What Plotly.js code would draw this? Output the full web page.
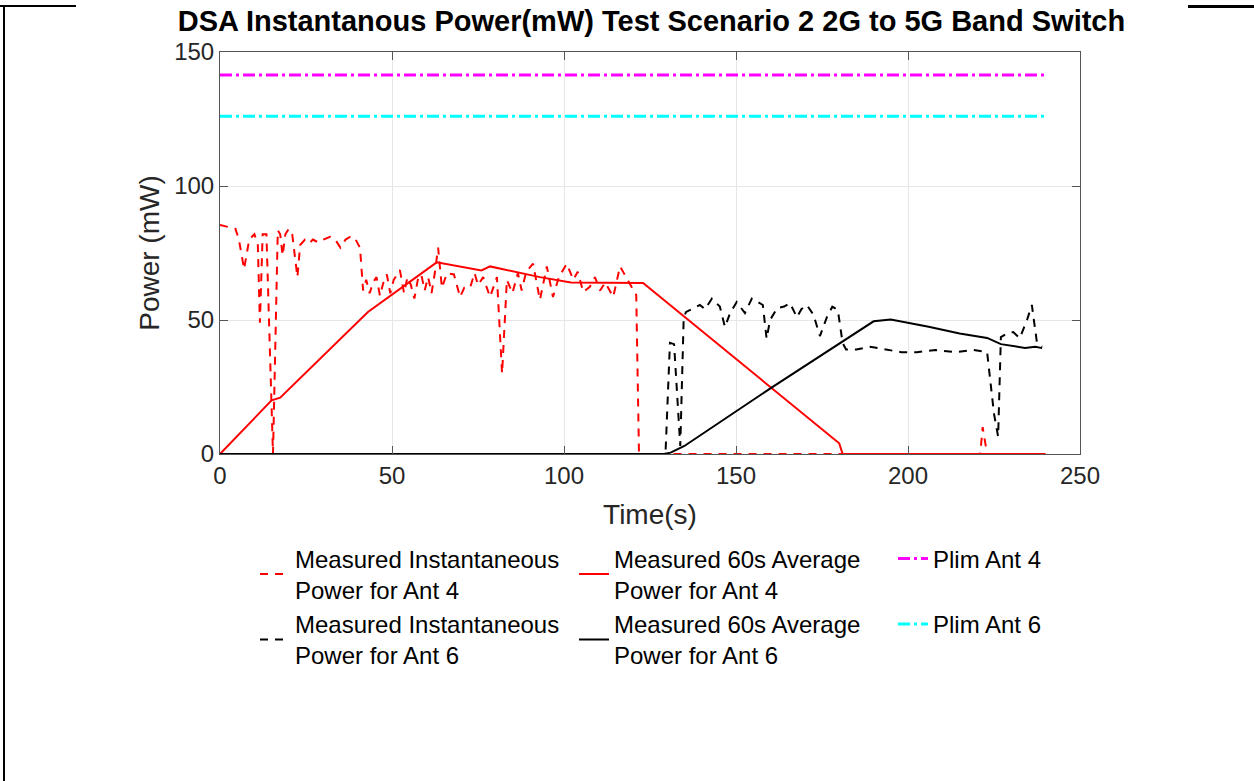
<!DOCTYPE html>
<html>
<head>
<meta charset="utf-8">
<script src="https://cdn.plot.ly/plotly-3.0.1.min.js"></script>
<style>
  html, body { margin: 0; padding: 0; background: #fff; }
  #wrap { position: relative; width: 1254px; height: 781px; overflow: hidden; }
  #chart { position: absolute; left: 0; top: 0; width: 1254px; height: 781px; }
  .frame { position: absolute; background: #000; pointer-events: none; }
</style>
</head>
<body>
<div id="wrap">
  <div id="chart"></div>
  <div class="frame" style="left:0;top:5px;width:76px;height:2px;"></div>
  <div class="frame" style="left:1188px;top:5px;width:66px;height:3px;"></div>
  <div class="frame" style="left:3px;top:5px;width:2px;height:776px;"></div>
</div>
<script>
// ---- Data ----
// Measured Instantaneous Power for Ant 4 (red dashed)
const timeInst4 = [0,1.5,3,4.5,5.5,7,8.5,10,11,11.6,12.4,13.5,15.4,16.8,17.5,18.2,19,20,21,22.5,23.3,24.7,26,27,28.5,30,32,33.5,35,36.5,37.8,39,40.7,41.6,42.5,43.5,44.5,45.5,46.5,47.5,48.5,49.5,50.5,52.3,53.5,54.5,55.5,56.5,57.5,58.5,59.5,60.5,61.5,62.5,63.4,64.5,66,68,69.8,71,72.7,74,75,76.5,78.5,80.5,82,83.4,85,86.6,87.7,89,91,93,95,96.8,98.5,100.8,102.7,104,105.6,107.5,109,110.5,112,114.3,116.3,118.6,121,121.8,221,221.7,223,240];
const powerInst4 = [85.5,85,84.5,84,80,69,80,82,78,49,82,82,0,83.5,82,74,82,84,82,66,78,80,78.7,80,79,80,81,80,77,80,81,81,77,61,65,60,64,66,59,64,67,60,65,68.6,60,66,63,58,65,67,61,66,60,68,77,62,67.5,67,58.6,62,62,67.5,63,66,58.6,66,30,65,60,67.5,61,68,71,57.5,70,58.6,66,71,65,68,60.4,62.4,66,61,64,58.6,70,65,59.3,0,0,10,0,0];
// Measured 60s Average Power for Ant 4 (red solid)
const timeAvg4 = [0,15,17.5,43,63,76,78.5,93,102,123,180,181,240];
const powerAvg4 = [0,20,21,53,71.5,68.5,70,66,64,63.8,4,0,0];
// Measured Instantaneous Power for Ant 6 (black dashed)
const timeInst6 = [0,129.5,130.8,132,133.8,134.8,135.5,137,139.5,141,143,145.3,146.8,148.3,150.2,152.6,154.6,156,157.8,158.9,159.9,162,164,165.7,167.7,169,170.6,172.5,174.4,176.4,178,179.6,181,182,185,189,194,198,202.6,208,214,219,223,224,225,226.2,227,228.8,230.6,232.5,234.6,236,237.5,239];
const powerInst6 = [0,0,41.5,41,3,51,53,54,55.6,54,58,55,47.4,52.6,56.7,52.6,58,57,55.6,43,50,54.5,55,56.3,51,54,55.6,52,44,51,55,53.7,41.4,39,39,40,38.8,38,38,38.8,38,38.8,38,26.5,15,6.5,43.6,45,45.5,43.2,50,55.6,41.4,40];
// Measured 60s Average Power for Ant 6 (black solid)
const timeAvg6 = [0,129,131,135,160,190,195,206,215,223,227,234,237,239];
const powerAvg6 = [0,0,0.5,3,24.5,49.5,50.2,47.5,45,43.3,41,39.6,40,39.5];
// Power limits
const timeLim = [0,240];
const plimAnt4 = [141.4,141.4];
const plimAnt6 = [126,126];

const xTicks = [0,50,100,150,200,250];
const yTicks = [0,50,100,150];

const legendNames = [
  'Measured Instantaneous<br>Power for Ant 4',
  'Measured 60s Average<br>Power for Ant 4',
  'Plim Ant 4',
  'Measured Instantaneous<br>Power for Ant 6',
  'Measured 60s Average<br>Power for Ant 6',
  'Plim Ant 6'
];

const traces = [
  {x: timeInst4, y: powerInst4, name: legendNames[0], mode: 'lines',
   line: {color: '#ff0000', width: 2, dash: '8px,7px'}},
  {x: timeAvg4, y: powerAvg4, name: legendNames[1], mode: 'lines',
   line: {color: '#ff0000', width: 2}},
  {x: timeLim, y: plimAnt4, name: legendNames[2], mode: 'lines',
   line: {color: '#ff00ff', width: 3, dash: '12px,4px,3px,4px'}},
  {x: timeInst6, y: powerInst6, name: legendNames[3], mode: 'lines',
   line: {color: '#000000', width: 2, dash: '8px,7px'}},
  {x: timeAvg6, y: powerAvg6, name: legendNames[4], mode: 'lines',
   line: {color: '#000000', width: 2}},
  {x: timeLim, y: plimAnt6, name: legendNames[5], mode: 'lines',
   line: {color: '#00ffff', width: 3, dash: '12px,4px,3px,4px'}}
];

const font = 'Liberation Sans, Arial, Helvetica, sans-serif';

const layout = {
  width: 1254, height: 781,
  margin: {l: 220, r: 174, t: 52, b: 327},
  paper_bgcolor: '#ffffff', plot_bgcolor: '#ffffff',
  font: {family: font, color: '#262626'},
  title: {
    text: '<b>DSA Instantanous Power(mW) Test Scenario 2 2G to 5G Band Switch</b>',
    font: {family: font, size: 29, color: '#000000'},
    x: 0.5195, xanchor: 'center', y: 0.973, yanchor: 'middle', yref: 'container'
  },
  xaxis: {
    range: [0, 250], tickvals: xTicks, ticktext: xTicks.map(String),
    showgrid: true, gridcolor: '#e6e6e6', gridwidth: 1,
    showline: true, linecolor: '#555555', linewidth: 1, mirror: 'ticks',
    ticks: 'inside', ticklen: 8, tickcolor: '#555555',
    tickfont: {size: 24, color: '#262626'},
    zeroline: false,
    title: {text: 'Time(s)', font: {size: 28, color: '#262626'}, standoff: 16}
  },
  yaxis: {
    range: [0, 150], tickvals: yTicks, ticktext: yTicks.map(String),
    showgrid: true, gridcolor: '#e6e6e6', gridwidth: 1,
    showline: true, linecolor: '#555555', linewidth: 1, mirror: 'ticks',
    ticks: 'inside', ticklen: 8, tickcolor: '#555555',
    tickfont: {size: 24, color: '#262626'},
    zeroline: false,
    title: {text: 'Power (mW)', font: {size: 28, color: '#262626'}, standoff: 6}
  },
  showlegend: true,
  legend: {
    orientation: 'h', x: 1.1535, xanchor: 'right', y: -0.205, yanchor: 'top',
    font: {size: 24, color: '#000000', family: font},
    entrywidth: 274, entrywidthmode: 'pixels',
    tracegroupgap: 0, itemwidth: 30, valign: 'middle',
    bgcolor: 'rgba(0,0,0,0)', borderwidth: 0
  }
};

Plotly.newPlot('chart', traces, layout, {staticPlot: true, displayModeBar: false});
</script>
</body>
</html>
